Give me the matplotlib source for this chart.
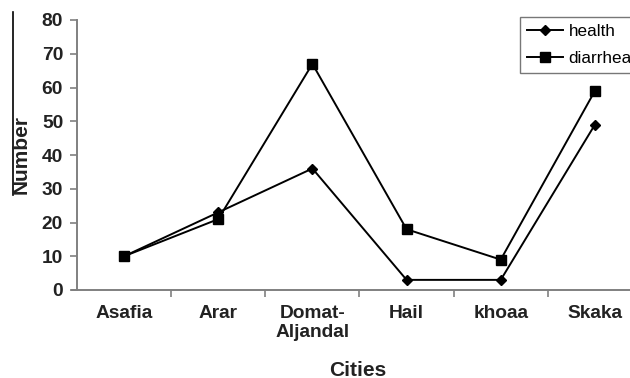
import matplotlib
matplotlib.use("Agg")
import matplotlib.pyplot as plt
from matplotlib.lines import Line2D

plt.rcParams['font.family'] = ['Liberation Sans', 'DejaVu Sans']

cities = ["Asafia", "Arar", "Domat-\nAljandal", "Hail", "khoaa", "Skaka"]
health = [10, 23, 36, 3, 3, 49]
diarrhea = [10, 21, 67, 18, 9, 59]
y_ticks = [0, 10, 20, 30, 40, 50, 60, 70, 80]

W, H = 630, 378
fig = plt.figure(figsize=(W / 100, H / 100), dpi=100)
ax = fig.add_axes([77 / W, 1 - 290 / H, (642 - 77) / W, (290 - 20) / H])

x = list(range(len(cities)))
ax.plot(x, health, color='black', lw=1.4, marker='D', ms=5.5,
        markerfacecolor='black', markeredgecolor='black', label='health')
ax.plot(x, diarrhea, color='black', lw=1.4, marker='s', ms=7.5,
        markerfacecolor='black', markeredgecolor='black', label='diarrhea')

ax.set_xlim(-0.5, len(cities) - 0.5)
ax.set_ylim(0, 80)
ax.set_yticks(y_ticks)
ax.set_xticks(x)
ax.set_xticklabels(cities, fontweight='bold', fontsize=13.8, color='#222222',
                   linespacing=1.1)
ax.set_xticks([i + 0.5 for i in x[:-1]], minor=True)
ax.tick_params(axis='x', which='major', length=0, pad=11)
ax.tick_params(axis='x', which='minor', length=5, width=1.2, color='#808080',
               direction='out')
ax.tick_params(axis='y', length=5, width=1.2, color='#808080', pad=5,
               labelsize=13.8)
for lbl in ax.get_yticklabels():
    lbl.set_fontweight('bold')
    lbl.set_color('#222222')

for side in ('top', 'right'):
    ax.spines[side].set_visible(False)
for side in ('left', 'bottom'):
    ax.spines[side].set_color('#808080')
    ax.spines[side].set_linewidth(1.4)
ax.spines['bottom'].set_bounds(-0.5 - 5 / 94, len(cities) - 0.5)

fig.text(358 / W, 1 - 370 / H, "Cities", ha='center', va='center',
         fontsize=15, fontweight='bold', color='#222222')
fig.text(21 / W, 1 - 155 / H, "Number", ha='center', va='center',
         rotation=90, fontsize=15, fontweight='bold', color='#222222')
fig.add_artist(Line2D([13 / W, 13 / W], [1 - 12 / H, 1 - 195 / H],
                      color='black', lw=1.2, transform=fig.transFigure))

leg = ax.legend(loc='upper left', bbox_to_anchor=(520 / W, 1 - 17 / H),
                bbox_transform=fig.transFigure, borderaxespad=0,
                fontsize=12.3, frameon=True, fancybox=False,
                handlelength=2.1, handletextpad=0.35, labelspacing=0.7,
                borderpad=0.4)
leg.get_frame().set_edgecolor('#555555')
leg.get_frame().set_linewidth(1.0)

fig.savefig("out.png", dpi=100)
